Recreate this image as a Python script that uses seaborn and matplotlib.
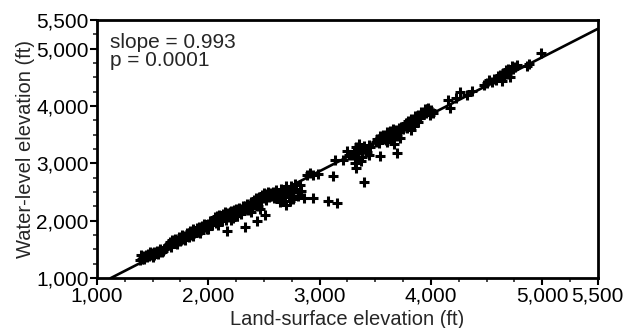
import numpy as np
import pandas as pd
import matplotlib
matplotlib.use("Agg")
import matplotlib.pyplot as plt
from matplotlib.ticker import FixedLocator, MultipleLocator, FuncFormatter
import seaborn as sns

# Land-surface elevation (ft) and water-level elevation (ft)
land = [
    # cluster A
    1390,1405,1415,1425,1440,1445,1455,1465,1475,1485,1495,1500,1510,1515,1525,1535,1545,1555,1570,1585,1595,1605,1620,1635,1400,
    # cluster B
    1645,1655,1665,1675,1685,1695,1705,1715,1725,1735,1745,1755,1765,1775,1785,1795,1805,1815,1825,1835,1845,1855,1865,1875,1885,
    1895,1905,1915,1925,1935,1945,1955,1965,1975,1985,1995,2005,2015,2025,2035,1720,1790,1860,1930,2000,
    # cluster C
    2050,2060,2070,2080,2090,2100,2110,2120,2130,2140,2150,2160,2170,2180,2190,2200,2210,2220,2230,2240,2250,2260,2270,2280,2290,
    2300,2310,2320,2065,2115,2155,2195,2235,2275,2315,2164,2085,2205,2255,2295,
    # cluster D
    2330,2340,2350,2360,2370,2380,2390,2400,2410,2420,2430,2440,2450,2460,2470,2480,2490,2500,2510,2520,2530,2540,2550,2560,2570,
    2326,2436,2514,2465,2385,
    # cluster E
    2580,2595,2610,2625,2640,2655,2670,2685,2700,2715,2730,2745,2760,2775,2790,2805,2820,2835,2701,2645,2765,2725,
    # scattered
    2858,2945,3076,3161,2889,2915,2945,2983,3123,3139,3248,3265,3215,
    # cluster F
    3290,3305,3320,3330,3345,3355,3370,3380,3395,3410,3425,3440,3455,3326,3398,3375,3315,3445,
    # cluster G
    3505,3520,3535,3545,3560,3570,3585,3595,3610,3620,3635,3645,3660,3670,3685,3695,3710,3720,3735,3750,3539,3695,3665,3605,3725,
    # cluster H
    3765,3780,3795,3810,3825,3840,3855,3870,3885,3900,3915,3930,3945,3960,3975,3990,4005,4015,3785,3845,3905,3965,3995,3825,3885,
    # cluster I
    4154,4170,4264,4373,4225,4325,
    # cluster J
    4475,4505,4525,4545,4565,4585,4605,4625,4645,4655,4675,4685,4695,4705,4725,4735,4755,4775,4865,4885,4635,4715,
    4992,
]
water = [
    1310,1340,1380,1330,1400,1360,1420,1380,1450,1400,1430,1370,1460,1410,1440,1480,1420,1460,1500,1450,1480,1510,1540,1570,1400,
    1590,1630,1550,1670,1610,1640,1690,1600,1670,1720,1650,1690,1760,1680,1730,1710,1780,1750,1710,1820,1780,1750,1850,1790,1830,
    1870,1810,1890,1850,1840,1910,1870,1940,1890,1860,1950,1920,1990,1950,1920,1610,1670,1730,1790,1860,
    2000,2060,1960,2080,2020,2100,2040,1990,2120,2060,2150,2010,2090,2140,2060,2170,2110,2050,2180,2130,2200,2090,2160,2230,2140,
    2210,2260,2180,2030,2070,2110,2150,2100,2190,2240,1815,1930,2020,2080,2120,
    2250,2210,2300,2190,2270,2330,2240,2310,2360,2280,2390,2330,2260,2410,2350,2450,2390,2480,2430,2370,2460,2500,2420,2480,2440,
    1885,1990,2106,2200,2150,
    2500,2400,2540,2450,2380,2560,2480,2420,2600,2520,2350,2610,2500,2640,2560,2440,2620,2520,2281,2330,2380,2450,
    2397,2397,2339,2310,2804,2830,2790,2815,2775,3066,3212,3140,3060,
    3150,3220,3100,3280,3180,3340,3230,3120,3300,3250,3200,3320,3280,2921,2676,3050,3010,3150,
    3380,3420,3350,3470,3430,3500,3460,3400,3540,3490,3560,3450,3600,3520,3580,3470,3620,3560,3640,3600,3125,3183,3330,3380,3440,
    3650,3700,3740,3680,3780,3720,3820,3760,3850,3800,3900,3860,3940,3880,3960,3900,3930,3880,3620,3660,3800,3950,3840,3580,3720,
    4097,3969,4248,4260,4140,4200,
    4370,4400,4450,4420,4480,4460,4520,4540,4580,4500,4620,4560,4650,4600,4700,4640,4680,4720,4690,4730,4430,4500,
    4929,
]

# regression line: slope as printed on the chart, intercept
fit_slope = 0.993
fit_intercept = -115

tick_values = [1000, 2000, 3000, 4000, 5000, 5500]
annotation_lines = ["slope = 0.993", "p = 0.0001"]
x_label = "Land-surface elevation (ft)"
y_label = "Water-level elevation (ft)"

df = pd.DataFrame({"land": land, "water": water})

sns.set_style("ticks")
plt.rcParams["font.family"] = ["Liberation Sans", "DejaVu Sans"]

fig = plt.figure(figsize=(6.38, 3.28), dpi=100)
ax = fig.add_axes([0.152, 0.152, 0.785, 0.787])
ax.set_xlim(1000, 5500)
ax.set_ylim(1000, 5500)

sns.scatterplot(data=df, x="land", y="water", ax=ax, marker="+",
                s=55, linewidth=2.2, color="black", alpha=1, zorder=3)
ax.axline((0, fit_intercept), slope=fit_slope, color="black", lw=1.9, zorder=2)

ax.set_xlim(1000, 5500)
ax.set_ylim(1000, 5500)

fmt = FuncFormatter(lambda v, p: f"{int(v):,}")
for axis in (ax.xaxis, ax.yaxis):
    axis.set_major_locator(FixedLocator(tick_values))
    axis.set_minor_locator(MultipleLocator(250))
    axis.set_major_formatter(fmt)

ax.tick_params(which="major", direction="out", length=5, width=1.5, labelsize=15, pad=1, colors="black")
ax.tick_params(which="minor", direction="out", length=3, width=1.2)
for s in ax.spines.values():
    s.set_linewidth(2)
    s.set_color("black")

ax.set_xlabel(x_label, fontsize=14.5, labelpad=3)
ax.set_ylabel(y_label, fontsize=14.5, labelpad=1)

ax.text(0.026, 0.948, "\n".join(annotation_lines), transform=ax.transAxes,
        ha="left", va="top", fontsize=15, linespacing=0.88)

fig.savefig("out.png", dpi=100)
